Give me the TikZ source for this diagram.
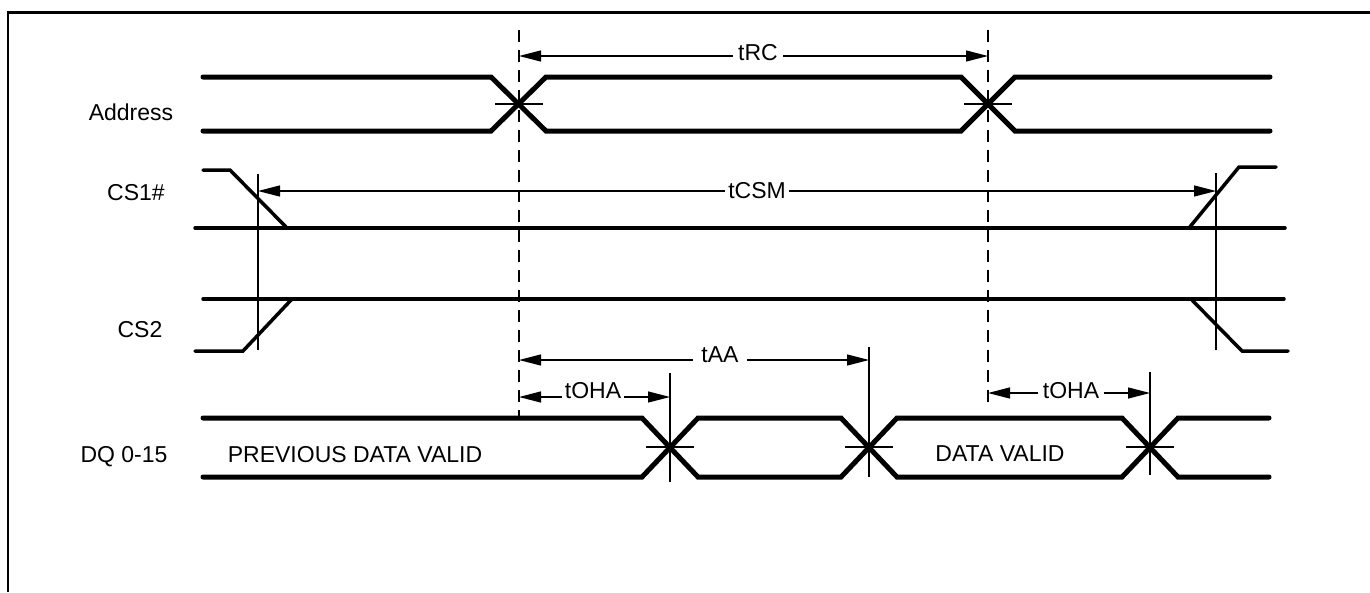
\documentclass[tikz,border=0pt]{standalone}
\usepackage{fontspec}
\setmainfont{Liberation Sans}
\usetikzlibrary{arrows.meta}
\begin{document}
\begin{tikzpicture}[x=1pt,y=-1pt,
  sig/.style={line width=5pt, line cap=round, line join=miter},
  csig/.style={line width=3.5pt, line cap=round, line join=miter},
  thinline/.style={line width=1.3pt},
  guide/.style={line width=1.3pt, dash pattern=on 12pt off 8pt},
  dimarrow/.style={line width=1.3pt, {Triangle[length=22pt,width=11pt]}-{Triangle[length=22pt,width=11pt]}},
  lbl/.style={font=\fontsize{23}{27}\selectfont, inner sep=0pt, anchor=base},
  dimlbl/.style={font=\fontsize{23}{27}\selectfont, inner ysep=1pt, anchor=base, fill=white},
]
\useasboundingbox (0,0) rectangle (1370,592);
% frame
\draw[line width=2.5pt] (8,592) -- (8,12.5) -- (1370,12.5);

% signal names
\node[lbl] (nAddr) at (131,120) {Address};
\node[lbl] (nCSa) at (136,200) {CS1\#};
\node[lbl] (nCSb) at (140,337) {CS2};
\node[lbl] (nDQ) at (124,462) {DQ 0-15};

% Address bus
\draw[sig] (203,77) -- (491,77) -- (546,131) -- (961,131) -- (1015,77) -- (1270,77);
\draw[sig] (203,131) -- (491,131) -- (546,77) -- (961,77) -- (1015,131) -- (1270,131);
\draw[thinline] (495,104) -- (543,104);
\draw[thinline] (964,104) -- (1012,104);

% CS1#
\draw[csig] (203,170) -- (230,170) -- (287,228);
\draw[csig] (195,228) -- (1285,228);
\draw[csig] (1189,228) -- (1239,167) -- (1276,167);

% CS2
\draw[csig] (203,299) -- (1284,299);
\draw[csig] (195,351) -- (243,351) -- (292,299);
\draw[csig] (1191,299) -- (1242,351) -- (1288,351);

% CS verticals
\coordinate (csL) at (258,191);
\coordinate (csR) at (1216,191);
\draw[thinline] (258,174) -- (258,350);
\draw[thinline] (1216,173) -- (1216,350);

% DQ bus
\draw[sig] (203,418) -- (642,418) -- (698,477) -- (841,477) -- (897,418) -- (1122,418) -- (1178,477) -- (1269,477);
\draw[sig] (203,477) -- (642,477) -- (698,418) -- (841,418) -- (897,477) -- (1122,477) -- (1178,418) -- (1269,418);
\draw[thinline] (646,447) -- (694,447);
\draw[thinline] (845,447) -- (893,447);
\draw[thinline] (1126,447) -- (1174,447);
\draw[thinline] (670,373) -- (670,482);
\draw[thinline] (869,347) -- (869,477);
\draw[thinline] (1150,372) -- (1150,475);

\node[lbl] (nPrev) at (355,462) {PREVIOUS DATA VALID};
\node[lbl] (nData) at (1000,461) {DATA VALID};

% dashed guides
\draw[guide] (519,30) -- (519,420);
\draw[guide] (988,30) -- (988,405);

% dimension arrows
\coordinate (rcL) at (519,56);
\coordinate (rcR) at (988,56);
\draw[dimarrow] (rcL) -- (rcR);
\node[dimlbl, inner xsep=5pt] (lRC) at (758,60) {tRC};

\draw[dimarrow] (csL) -- (csR);
\node[dimlbl, inner xsep=3pt] (lCSM) at (757,198) {tCSM};

\coordinate (aaL) at (519,360);
\coordinate (aaR) at (869,360);
\draw[dimarrow] (aaL) -- (aaR);
\node[dimlbl, inner xsep=8pt] (lAA) at (720,362) {tAA};

\coordinate (oh1L) at (519,397);
\coordinate (oh1R) at (670,397);
\draw[dimarrow] (oh1L) -- (oh1R);
\node[dimlbl, inner xsep=3pt] (lOH1) at (593,398) {tOHA};

\coordinate (oh2L) at (988,393);
\coordinate (oh2R) at (1150,393);
\draw[dimarrow] (oh2L) -- (oh2R);
\node[dimlbl, inner xsep=5pt] (lOH2) at (1071,398) {tOHA};
\end{tikzpicture}
\end{document}
